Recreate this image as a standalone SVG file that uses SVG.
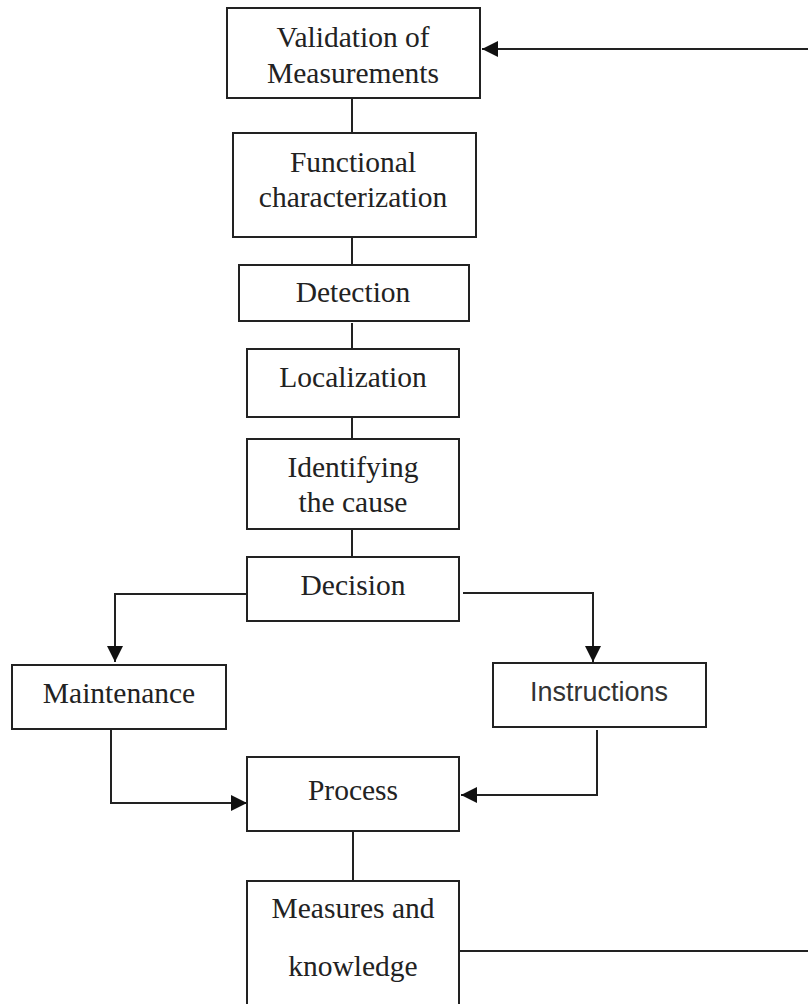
<svg xmlns="http://www.w3.org/2000/svg" width="808" height="1004" viewBox="0 0 808 1004">
<defs>
<style>
.box{fill:#fff;stroke:#222;stroke-width:2}
.t{font-family:"Liberation Serif","Times New Roman",serif;font-size:29.5px;fill:#222;text-anchor:middle}
.s{font-family:"Liberation Sans",Arial,sans-serif;font-size:27px;fill:#333;text-anchor:middle}
.c{fill:none;stroke:#222;stroke-width:2}
</style>
<marker id="a" viewBox="0 0 16 16" refX="16" refY="8" markerWidth="16" markerHeight="16" markerUnits="userSpaceOnUse" orient="auto">
<path d="M0,0 L16,8 L0,16 Z" fill="#111"/>
</marker>
</defs>
<g id="connectors">
<line class="c" x1="352" y1="98" x2="352" y2="133"/>
<line class="c" x1="352" y1="237" x2="352" y2="265"/>
<line class="c" x1="352" y1="323" x2="352" y2="349"/>
<line class="c" x1="352" y1="417" x2="352" y2="439"/>
<line class="c" x1="352" y1="529" x2="352" y2="557"/>
<polyline class="c" points="248,594 115,594 115,662" marker-end="url(#a)"/>
<polyline class="c" points="463,593 593,593 593,662" marker-end="url(#a)"/>
<polyline class="c" points="111,729 111,803 247,803" marker-end="url(#a)"/>
<polyline class="c" points="597,730 597,795 461,795" marker-end="url(#a)"/>
<line class="c" x1="353" y1="831" x2="353" y2="881"/>
<line class="c" x1="459" y1="951" x2="808" y2="951" stroke="#555"/>
<line class="c" x1="808" y1="49" x2="482" y2="49" marker-end="url(#a)"/>
</g>
<g id="validation">
<rect class="box" x="227" y="8" width="253" height="90"/>
<text class="t" x="353" y="47">Validation of</text>
<text class="t" x="353" y="83">Measurements</text>
</g>
<g id="functional">
<rect class="box" x="233" y="133" width="243" height="104"/>
<text class="t" x="353" y="172">Functional</text>
<text class="t" x="353" y="207">characterization</text>
</g>
<g id="detection">
<rect class="box" x="239" y="265" width="230" height="56"/>
<text class="t" x="353" y="302">Detection</text>
</g>
<g id="localization">
<rect class="box" x="247" y="349" width="212" height="68"/>
<text class="t" x="353" y="387">Localization</text>
</g>
<g id="identifying">
<rect class="box" x="247" y="439" width="212" height="90"/>
<text class="t" x="353" y="477">Identifying</text>
<text class="t" x="353" y="512">the cause</text>
</g>
<g id="decision">
<rect class="box" x="247" y="557" width="212" height="64"/>
<text class="t" x="353" y="595">Decision</text>
</g>
<g id="maintenance">
<rect class="box" x="12" y="665" width="214" height="64"/>
<text class="t" x="119" y="703">Maintenance</text>
</g>
<g id="instructions">
<rect class="box" x="493" y="663" width="213" height="64"/>
<text class="s" x="599" y="701">Instructions</text>
</g>
<g id="process">
<rect class="box" x="247" y="757" width="212" height="74"/>
<text class="t" x="353" y="800">Process</text>
</g>
<g id="measures">
<rect class="box" x="247" y="881" width="212" height="140"/>
<text class="t" x="353" y="918">Measures and</text>
<text class="t" x="353" y="976">knowledge</text>
</g>
</svg>
